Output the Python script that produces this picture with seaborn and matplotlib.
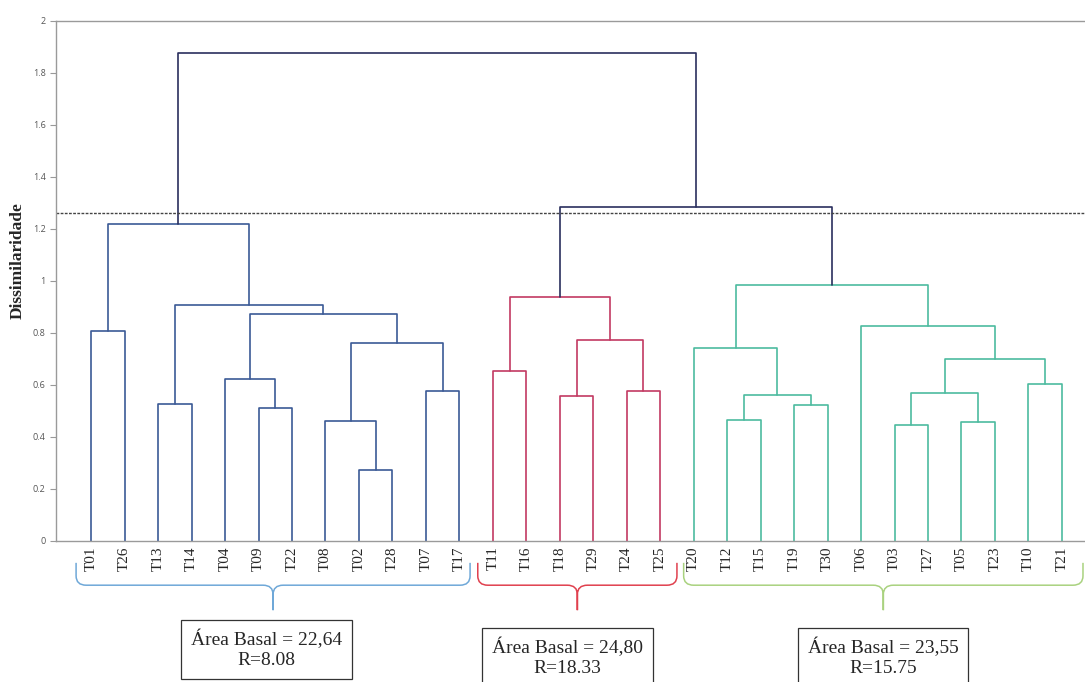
import numpy as np
import pandas as pd
import matplotlib
matplotlib.use("Agg")
import matplotlib.pyplot as plt
from matplotlib.path import Path
from matplotlib.patches import PathPatch
import matplotlib.transforms as mtransforms
import seaborn as sns

# ===== DADOS =====
folhas = ["T01", "T26", "T13", "T14", "T04", "T09", "T22", "T08", "T02", "T28",
          "T07", "T17", "T11", "T16", "T18", "T29", "T24", "T25", "T20", "T12",
          "T15", "T19", "T30", "T06", "T03", "T27", "T05", "T23", "T10", "T21"]

# fusões: (filho_a, filho_b, altura) -> nó "n<i>"
fusoes = [
    ("T01", "T26", 0.806),   # n0
    ("T02", "T28", 0.275),   # n1
    ("T08", "n1", 0.461),    # n2
    ("T07", "T17", 0.578),   # n3
    ("n2", "n3", 0.763),     # n4
    ("T09", "T22", 0.511),   # n5
    ("T04", "n5", 0.623),    # n6
    ("n6", "n4", 0.872),     # n7
    ("T13", "T14", 0.527),   # n8
    ("n8", "n7", 0.906),     # n9
    ("n0", "n9", 1.221),     # n10
    ("T11", "T16", 0.653),   # n11
    ("T18", "T29", 0.557),   # n12
    ("T24", "T25", 0.578),   # n13
    ("n12", "n13", 0.775),   # n14
    ("n11", "n14", 0.938),   # n15
    ("T12", "T15", 0.464),   # n16
    ("T19", "T30", 0.523),   # n17
    ("n16", "n17", 0.561),   # n18
    ("T20", "n18", 0.741),   # n19
    ("T03", "T27", 0.447),   # n20
    ("T05", "T23", 0.456),   # n21
    ("n20", "n21", 0.568),   # n22
    ("T10", "T21", 0.603),   # n23
    ("n22", "n23", 0.700),   # n24
    ("T06", "n24", 0.826),   # n25
    ("n19", "n25", 0.986),   # n26
    ("n15", "n26", 1.285),   # n27
    ("n10", "n27", 1.877),   # n28
]

corte = 1.26
grupos = ["G1", "G2", "G3"]
grupo_folhas = {"G1": folhas[0:12], "G2": folhas[12:18], "G3": folhas[18:30]}
area_basal = ["22,64", "24,80", "23,55"]
valores_r = ["8.08", "18.33", "15.75"]

cores = {"acima": "#2a2f5e", "G1": "#3b5a96", "G2": "#c23a62", "G3": "#4dbb9f"}
cores_chave = {"G1": "#6fa8d8", "G2": "#e0404e", "G3": "#a9d27f"}

# ===== MONTAGEM DOS SEGMENTOS =====
pos = {f: i for i, f in enumerate(folhas)}
alt = {f: 0.0 for f in folhas}
membros = {f: {f} for f in folhas}
grupo_de = {f: g for g, fs in grupo_folhas.items() for f in fs}

linhas = []
for i, (a, b, h) in enumerate(fusoes):
    no = f"n{i}"
    pos[no] = (pos[a] + pos[b]) / 2
    alt[no] = h
    membros[no] = membros[a] | membros[b]
    gs = {grupo_de[f] for f in membros[no]}
    grupo = gs.pop() if (len(gs) == 1 and h < corte) else "acima"
    pts = [(pos[a], alt[a]), (pos[a], h), (pos[b], h), (pos[b], alt[b])]
    for k, (x, y) in enumerate(pts):
        linhas.append({"ligacao": no, "ordem": k, "x": x, "y": y, "grupo": grupo})

df = pd.DataFrame(linhas)

# ===== FIGURA =====
sns.set_style("white")
plt.rcParams["font.family"] = ["Liberation Serif", "DejaVu Serif"]

fig = plt.figure(figsize=(10.85, 6.82), dpi=100)
ax = fig.add_axes([56 / 1085, 141 / 682, 1 - 56 / 1085, 520 / 682])

sns.lineplot(data=df, x="x", y="y", units="ligacao", estimator=None,
             hue="grupo", palette=cores, sort=False, legend=False,
             linewidth=1.2, ax=ax)

ax.axhline(corte, color="#444444", linestyle=(0, (2, 1)), linewidth=1.0)

ax.set_xlim(-1.05, len(folhas) - 1 + 0.69)
ax.set_ylim(0, 2)
ax.set_xticks(range(len(folhas)))
ax.set_xticklabels(folhas, rotation=90, fontsize=11)
yt = np.round(np.arange(0, 2.01, 0.2), 1)
ax.set_yticks(yt)
ax.set_yticklabels([f"{v:g}" for v in yt], fontsize=6.5, color="#555555",
                   family=["Open Sans", "DejaVu Sans"])
ax.tick_params(axis="x", length=0, pad=4)
ax.tick_params(axis="y", length=4, color="#999999", direction="out", left=True)
ax.set_xlabel("")
ax.set_ylabel("Dissimilaridade", fontsize=12.5, fontweight="bold")
ax.yaxis.set_label_coords(-0.029, 0.54)
for lado in ["left", "bottom", "top"]:
    ax.spines[lado].set_color("#9a9a9a")
    ax.spines[lado].set_linewidth(1.0)
ax.spines["right"].set_visible(False)

# ===== CHAVES E CAIXAS =====
trans = mtransforms.blended_transform_factory(ax.transData, ax.transAxes)
y_topo, y_meio, y_ponta = -0.042, -0.085, -0.133
dx, dy = 0.3, 0.018
folga_esq = [0.45, 0.45, 0.3]
folga_dir = [0.32, 0.5, 0.63]
desloc_caixa = [-0.2, -0.3, 0.0]
for j, g in enumerate(grupos):
    idx = [pos[f] for f in grupo_folhas[g]]
    x0, x1 = min(idx) - folga_esq[j], max(idx) + folga_dir[j]
    xc = (x0 + x1) / 2
    verts, codes = [], []
    for xe, s in [(x0, 1), (x1, -1)]:
        verts += [(xe, y_topo), (xe, y_meio + dy), (xe, y_meio), (xe + s * dx, y_meio),
                  (xc - s * dx, y_meio), (xc, y_meio), (xc, y_meio - dy), (xc, y_ponta)]
        codes += [Path.MOVETO, Path.LINETO, Path.CURVE3, Path.CURVE3,
                  Path.LINETO, Path.CURVE3, Path.CURVE3, Path.LINETO]
    ax.add_patch(PathPatch(Path(verts, codes), transform=trans, fill=False,
                           edgecolor=cores_chave[g], linewidth=1.1, clip_on=False))

    yc = -0.208 if j == 0 else -0.224
    ax.text(xc + desloc_caixa[j], yc, f"Área Basal = {area_basal[j]}\nR={valores_r[j]}",
            transform=trans, ha="center", va="center", fontsize=14,
            linespacing=1.25, clip_on=False,
            bbox=dict(boxstyle="square,pad=0.5", facecolor="white",
                      edgecolor="#333333", linewidth=0.9))

fig.savefig("out.png", dpi=100)
